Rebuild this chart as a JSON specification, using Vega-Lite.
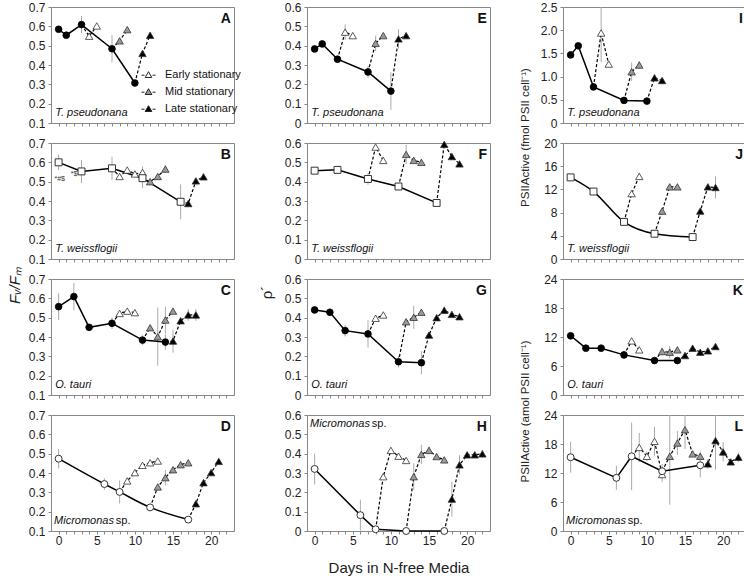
{
"$schema":"https://vega.github.io/schema/vega-lite/v6.json",
"padding":{"left":6,"top":0,"right":0,"bottom":0},
"datasets":{
"refs":[{"p":"A","v":0.585},{"p":"B","v":0.6},{"p":"C","v":0.557},{"p":"D","v":0.474},{"p":"E","v":0.386},{"p":"F","v":0.461},{"p":"G","v":0.443},{"p":"H","v":0.321},{"p":"I","v":1.48},{"p":"J","v":14.07},{"p":"K","v":12.25},{"p":"L","v":15.1}],
"labs":[
{"p":"A","k":"L","d":22.6,"v":0.64,"t":"A"},{"p":"A","k":"S","d":-0.45,"v":0.152,"t":"T. pseudonana"},
{"p":"B","k":"L","d":22.6,"v":0.64,"t":"B"},{"p":"B","k":"S","d":-0.45,"v":0.152,"t":"T. weissflogii"},{"p":"B","k":"N","d":-0.55,"v":0.515,"t":"*#$"},{"p":"B","k":"N","d":1.6,"v":0.54,"t":"*$"},
{"p":"C","k":"L","d":22.6,"v":0.64,"t":"C"},{"p":"C","k":"S","d":-0.45,"v":0.152,"t":"O. tauri"},
{"p":"D","k":"L","d":22.6,"v":0.64,"t":"D"},{"p":"D","k":"S","d":-0.6,"v":0.152,"t":"Micromonas"},{"p":"D","k":"P","d":7.5,"v":0.152,"t":"sp."},
{"p":"E","k":"L","d":22.6,"v":0.54,"t":"E"},{"p":"E","k":"S","d":-0.45,"v":0.052,"t":"T. pseudonana"},
{"p":"F","k":"L","d":22.6,"v":0.54,"t":"F"},{"p":"F","k":"S","d":-0.45,"v":0.052,"t":"T. weissflogii"},
{"p":"G","k":"L","d":22.6,"v":0.54,"t":"G"},{"p":"G","k":"S","d":-0.45,"v":0.052,"t":"O. tauri"},
{"p":"H","k":"L","d":22.6,"v":0.54,"t":"H"},{"p":"H","k":"S","d":-0.6,"v":0.556,"t":"Micromonas"},{"p":"H","k":"P","d":7.5,"v":0.556,"t":"sp."},
{"p":"I","k":"L","d":22.6,"v":2.25,"t":"I"},{"p":"I","k":"S","d":-0.45,"v":0.216,"t":"T. pseudonana"},
{"p":"J","k":"L","d":22.6,"v":18,"t":"J"},{"p":"J","k":"S","d":-0.45,"v":1.72,"t":"T. weissflogii"},
{"p":"K","k":"L","d":22.6,"v":21.6,"t":"K"},{"p":"K","k":"S","d":-0.45,"v":2.07,"t":"O. tauri"},
{"p":"L","k":"L","d":22.6,"v":21.6,"t":"L"},{"p":"L","k":"S","d":-0.6,"v":2.07,"t":"Micromonas"},{"p":"L","k":"P","d":7.5,"v":2.07,"t":"sp."}
],
"pts":[
{"p":"A","s":"base","d":0,"v":0.585},{"p":"A","s":"base","d":1,"v":0.554},{"p":"A","s":"base","d":3,"v":0.609,"e":0.045},{"p":"A","s":"base","d":7,"v":0.484,"e":0.07},{"p":"A","s":"base","d":10,"v":0.307},
{"p":"A","s":"Early stationary","d":3,"v":0.609,"st":1},{"p":"A","s":"Early stationary","d":4,"v":0.549},{"p":"A","s":"Early stationary","d":5,"v":0.602},
{"p":"A","s":"Mid stationary","d":7,"v":0.484,"st":1},{"p":"A","s":"Mid stationary","d":8,"v":0.525},{"p":"A","s":"Mid stationary","d":9,"v":0.583},
{"p":"A","s":"Late stationary","d":10,"v":0.307,"st":1},{"p":"A","s":"Late stationary","d":11,"v":0.46},{"p":"A","s":"Late stationary","d":12,"v":0.554},
{"p":"B","s":"base","d":0,"v":0.6,"e":0.04},{"p":"B","s":"base","d":3,"v":0.553,"e":0.06},{"p":"B","s":"base","d":7,"v":0.569,"e":0.06},{"p":"B","s":"base","d":11,"v":0.518,"e":0.05},{"p":"B","s":"base","d":16,"v":0.396,"e":0.09},
{"p":"B","s":"Early stationary","d":7,"v":0.569,"st":1},{"p":"B","s":"Early stationary","d":8,"v":0.527},{"p":"B","s":"Early stationary","d":9,"v":0.56},{"p":"B","s":"Early stationary","d":10,"v":0.54},{"p":"B","s":"Early stationary","d":11,"v":0.548,"e":0.03},
{"p":"B","s":"Mid stationary","d":11,"v":0.518,"st":1},{"p":"B","s":"Mid stationary","d":12,"v":0.5},{"p":"B","s":"Mid stationary","d":13,"v":0.527},{"p":"B","s":"Mid stationary","d":14,"v":0.565,"e":0.02},
{"p":"B","s":"Late stationary","d":16,"v":0.396,"st":1},{"p":"B","s":"Late stationary","d":17,"v":0.387},{"p":"B","s":"Late stationary","d":18,"v":0.504},{"p":"B","s":"Late stationary","d":19,"v":0.525},
{"p":"C","s":"base","d":0,"v":0.557,"e":0.07},{"p":"C","s":"base","d":2,"v":0.609,"e":0.07},{"p":"C","s":"base","d":4,"v":0.45},{"p":"C","s":"base","d":7,"v":0.471,"e":0.03},{"p":"C","s":"base","d":11,"v":0.384,"e":0.025},{"p":"C","s":"base","d":14,"v":0.374,"e":0.04},
{"p":"C","s":"Early stationary","d":7,"v":0.471,"st":1},{"p":"C","s":"Early stationary","d":8,"v":0.522},{"p":"C","s":"Early stationary","d":9,"v":0.534},{"p":"C","s":"Early stationary","d":10,"v":0.526},
{"p":"C","s":"Mid stationary","d":11,"v":0.384,"st":1},{"p":"C","s":"Mid stationary","d":12,"v":0.448},{"p":"C","s":"Mid stationary","d":13,"v":0.402,"e":0.15},{"p":"C","s":"Mid stationary","d":14,"v":0.488,"e":0.07},{"p":"C","s":"Mid stationary","d":15,"v":0.534},
{"p":"C","s":"Late stationary","d":14,"v":0.374,"st":1},{"p":"C","s":"Late stationary","d":15,"v":0.379,"e":0.06},{"p":"C","s":"Late stationary","d":16,"v":0.484},{"p":"C","s":"Late stationary","d":17,"v":0.514,"e":0.03},{"p":"C","s":"Late stationary","d":18,"v":0.514,"e":0.03},
{"p":"D","s":"base","d":0,"v":0.474,"e":0.05},{"p":"D","s":"base","d":6,"v":0.343,"e":0.03},{"p":"D","s":"base","d":8,"v":0.302,"e":0.06},{"p":"D","s":"base","d":12,"v":0.222},{"p":"D","s":"base","d":17,"v":0.159},
{"p":"D","s":"Early stationary","d":8,"v":0.302,"st":1},{"p":"D","s":"Early stationary","d":9,"v":0.359},{"p":"D","s":"Early stationary","d":10,"v":0.402},{"p":"D","s":"Early stationary","d":11,"v":0.44},{"p":"D","s":"Early stationary","d":12,"v":0.453},{"p":"D","s":"Early stationary","d":13,"v":0.462},
{"p":"D","s":"Mid stationary","d":12,"v":0.222,"st":1},{"p":"D","s":"Mid stationary","d":13,"v":0.328},{"p":"D","s":"Mid stationary","d":14,"v":0.376,"e":0.04},{"p":"D","s":"Mid stationary","d":15,"v":0.417},{"p":"D","s":"Mid stationary","d":16,"v":0.443},{"p":"D","s":"Mid stationary","d":17,"v":0.453},
{"p":"D","s":"Late stationary","d":17,"v":0.159,"st":1},{"p":"D","s":"Late stationary","d":18,"v":0.241},{"p":"D","s":"Late stationary","d":19,"v":0.35},{"p":"D","s":"Late stationary","d":20,"v":0.402},{"p":"D","s":"Late stationary","d":21,"v":0.46},
{"p":"E","s":"base","d":0,"v":0.383},{"p":"E","s":"base","d":1,"v":0.409},{"p":"E","s":"base","d":3,"v":0.33},{"p":"E","s":"base","d":7,"v":0.264,"e":0.03},{"p":"E","s":"base","d":10,"v":0.165,"e":0.097},
{"p":"E","s":"Early stationary","d":3,"v":0.33,"st":1},{"p":"E","s":"Early stationary","d":4,"v":0.47,"e":0.04},{"p":"E","s":"Early stationary","d":5,"v":0.452},
{"p":"E","s":"Mid stationary","d":7,"v":0.264,"st":1},{"p":"E","s":"Mid stationary","d":8,"v":0.412,"e":0.04},{"p":"E","s":"Mid stationary","d":9,"v":0.452},
{"p":"E","s":"Late stationary","d":10,"v":0.165,"st":1},{"p":"E","s":"Late stationary","d":11,"v":0.435,"e":0.05},{"p":"E","s":"Late stationary","d":12,"v":0.452},
{"p":"F","s":"base","d":0,"v":0.457},{"p":"F","s":"base","d":3,"v":0.461},{"p":"F","s":"base","d":7,"v":0.414,"e":0.03},{"p":"F","s":"base","d":11,"v":0.375},{"p":"F","s":"base","d":16,"v":0.29,"e":0.02},
{"p":"F","s":"Early stationary","d":7,"v":0.414,"st":1},{"p":"F","s":"Early stationary","d":8,"v":0.579},{"p":"F","s":"Early stationary","d":9,"v":0.51},
{"p":"F","s":"Mid stationary","d":11,"v":0.375,"st":1},{"p":"F","s":"Mid stationary","d":12,"v":0.541,"e":0.05},{"p":"F","s":"Mid stationary","d":13,"v":0.51},{"p":"F","s":"Mid stationary","d":14,"v":0.5},
{"p":"F","s":"Late stationary","d":16,"v":0.29,"st":1},{"p":"F","s":"Late stationary","d":17,"v":0.593},{"p":"F","s":"Late stationary","d":18,"v":0.53},{"p":"F","s":"Late stationary","d":19,"v":0.492},
{"p":"G","s":"base","d":0,"v":0.44},{"p":"G","s":"base","d":2,"v":0.428,"e":0.02},{"p":"G","s":"base","d":4,"v":0.333,"e":0.03},{"p":"G","s":"base","d":7,"v":0.316,"e":0.07},{"p":"G","s":"base","d":11,"v":0.172,"e":0.03},{"p":"G","s":"base","d":14,"v":0.167,"e":0.06},
{"p":"G","s":"Early stationary","d":7,"v":0.316,"st":1},{"p":"G","s":"Early stationary","d":8,"v":0.397},{"p":"G","s":"Early stationary","d":9,"v":0.414},
{"p":"G","s":"Mid stationary","d":11,"v":0.172,"st":1},{"p":"G","s":"Mid stationary","d":12,"v":0.379},{"p":"G","s":"Mid stationary","d":13,"v":0.402,"e":0.06},{"p":"G","s":"Mid stationary","d":14,"v":0.428},
{"p":"G","s":"Late stationary","d":14,"v":0.167,"st":1},{"p":"G","s":"Late stationary","d":15,"v":0.31},{"p":"G","s":"Late stationary","d":16,"v":0.4},{"p":"G","s":"Late stationary","d":17,"v":0.438,"e":0.02},{"p":"G","s":"Late stationary","d":18,"v":0.417},{"p":"G","s":"Late stationary","d":19,"v":0.405},
{"p":"H","s":"base","d":0,"v":0.321,"e":0.08},{"p":"H","s":"base","d":6,"v":0.082,"e":0.08},{"p":"H","s":"base","d":8,"v":0.009},{"p":"H","s":"base","d":12,"v":0},{"p":"H","s":"base","d":17,"v":0},
{"p":"H","s":"Early stationary","d":8,"v":0.009,"st":1},{"p":"H","s":"Early stationary","d":9,"v":0.281},{"p":"H","s":"Early stationary","d":10,"v":0.417},{"p":"H","s":"Early stationary","d":11,"v":0.387},{"p":"H","s":"Early stationary","d":12,"v":0.365},
{"p":"H","s":"Mid stationary","d":12,"v":0,"st":1},{"p":"H","s":"Mid stationary","d":13,"v":0.281,"e":0.07},{"p":"H","s":"Mid stationary","d":14,"v":0.396,"e":0.05},{"p":"H","s":"Mid stationary","d":15,"v":0.417,"e":0.02},{"p":"H","s":"Mid stationary","d":16,"v":0.385},{"p":"H","s":"Mid stationary","d":17,"v":0.368},
{"p":"H","s":"Late stationary","d":17,"v":0,"st":1},{"p":"H","s":"Late stationary","d":18,"v":0.165,"e":0.09},{"p":"H","s":"Late stationary","d":19,"v":0.342,"e":0.05},{"p":"H","s":"Late stationary","d":20,"v":0.394},{"p":"H","s":"Late stationary","d":21,"v":0.394},{"p":"H","s":"Late stationary","d":22,"v":0.399,"e":0.02},
{"p":"I","s":"base","d":0,"v":1.468},{"p":"I","s":"base","d":1,"v":1.664},{"p":"I","s":"base","d":3,"v":0.778,"e":0.05},{"p":"I","s":"base","d":7,"v":0.487},{"p":"I","s":"base","d":10,"v":0.472},
{"p":"I","s":"Early stationary","d":3,"v":0.778,"st":1},{"p":"I","s":"Early stationary","d":4,"v":1.94,"e":0.63},{"p":"I","s":"Early stationary","d":5,"v":1.27},
{"p":"I","s":"Mid stationary","d":7,"v":0.487,"st":1},{"p":"I","s":"Mid stationary","d":8,"v":1.105,"e":0.2},{"p":"I","s":"Mid stationary","d":9,"v":1.25,"e":0.08},
{"p":"I","s":"Late stationary","d":10,"v":0.472,"st":1},{"p":"I","s":"Late stationary","d":11,"v":0.974,"e":0.07},{"p":"I","s":"Late stationary","d":12,"v":0.916},
{"p":"J","s":"base","d":0,"v":14.07},{"p":"J","s":"base","d":3,"v":11.63},{"p":"J","s":"base","d":7,"v":6.4},{"p":"J","s":"base","d":11,"v":4.36},{"p":"J","s":"base","d":16,"v":3.78},
{"p":"J","s":"Early stationary","d":7,"v":6.4,"st":1},{"p":"J","s":"Early stationary","d":8,"v":11.28},{"p":"J","s":"Early stationary","d":9,"v":14.24,"e":0.6},
{"p":"J","s":"Mid stationary","d":11,"v":4.36,"st":1},{"p":"J","s":"Mid stationary","d":12,"v":8.26},{"p":"J","s":"Mid stationary","d":13,"v":12.44},{"p":"J","s":"Mid stationary","d":14,"v":12.44},
{"p":"J","s":"Late stationary","d":16,"v":3.78,"st":1},{"p":"J","s":"Late stationary","d":17,"v":8.26},{"p":"J","s":"Late stationary","d":18,"v":12.44},{"p":"J","s":"Late stationary","d":19,"v":12.33,"e":1.9},
{"p":"K","s":"base","d":0,"v":12.25,"e":0.8},{"p":"K","s":"base","d":2,"v":9.69},{"p":"K","s":"base","d":4,"v":9.69,"e":0.6},{"p":"K","s":"base","d":7,"v":8.3,"e":0.8},{"p":"K","s":"base","d":11,"v":7.13},{"p":"K","s":"base","d":14,"v":7.13},
{"p":"K","s":"Early stationary","d":7,"v":8.3,"st":1},{"p":"K","s":"Early stationary","d":8,"v":11.2},{"p":"K","s":"Early stationary","d":9,"v":9.34},
{"p":"K","s":"Mid stationary","d":11,"v":7.13,"st":1},{"p":"K","s":"Mid stationary","d":12,"v":9.0,"e":0.8},{"p":"K","s":"Mid stationary","d":13,"v":8.86,"e":1.3},{"p":"K","s":"Mid stationary","d":14,"v":9.34,"e":0.6},
{"p":"K","s":"Late stationary","d":14,"v":7.13,"st":1},{"p":"K","s":"Late stationary","d":15,"v":8.17},{"p":"K","s":"Late stationary","d":16,"v":9.69},{"p":"K","s":"Late stationary","d":17,"v":8.86},{"p":"K","s":"Late stationary","d":18,"v":9.13},{"p":"K","s":"Late stationary","d":19,"v":10.03},
{"p":"L","s":"base","d":0,"v":15.26,"e":3.2},{"p":"L","s":"base","d":6,"v":11.0,"e":2.5},{"p":"L","s":"base","d":8,"v":15.46,"e":7},{"p":"L","s":"base","d":12,"v":12.37,"e":1.5},{"p":"L","s":"base","d":17,"v":13.6,"e":2.5},
{"p":"L","s":"Early stationary","d":8,"v":15.46,"st":1},{"p":"L","s":"Early stationary","d":9,"v":17.3,"e":3},{"p":"L","s":"Early stationary","d":10,"v":15.46,"e":1},{"p":"L","s":"Early stationary","d":11,"v":18.56,"e":3},{"p":"L","s":"Early stationary","d":12,"v":11.68,"e":1.5},
{"p":"L","s":"Mid stationary","d":12,"v":12.37,"st":1},{"p":"L","s":"Mid stationary","d":13,"v":15.46,"e":10},{"p":"L","s":"Mid stationary","d":14,"v":18.2,"e":2.5},{"p":"L","s":"Mid stationary","d":15,"v":20.96,"e":4},{"p":"L","s":"Mid stationary","d":16,"v":15.95},{"p":"L","s":"Mid stationary","d":17,"v":15.46,"e":1},
{"p":"L","s":"Late stationary","d":17,"v":13.6,"st":1},{"p":"L","s":"Late stationary","d":18,"v":13.88,"e":1},{"p":"L","s":"Late stationary","d":19,"v":18.7,"e":6},{"p":"L","s":"Late stationary","d":20,"v":16.36,"e":2},{"p":"L","s":"Late stationary","d":21,"v":14.3},{"p":"L","s":"Late stationary","d":22,"v":15.26,"e":1}
]
},
"columns":3,
"spacing":{"row":20,"column":73},
"bounds":"flush",
"resolve":{"scale":{"fill":"independent"},"legend":{"fill":"independent"}},
"concat":[
{"width":183,"height":116,
"encoding":{"x":{"field":"d","type":"quantitative","scale":{"domain":[-1,23],"nice":false,"zero":false},"axis":{"values":[0,1,2,3,4,5,6,7,8,9,10,11,12,13,14,15,16,17,18,19,20,21,22],"labels":false,"title":null}},"y":{"field":"v","type":"quantitative","scale":{"domain":[0.1,0.7],"nice":false,"zero":false,"clamp":true},"axis":{"values":[0.1,0.2,0.3,0.4,0.5,0.6,0.7],"format":".1f","title":null}}},
"layer":[
{"data":{"name":"refs"},"transform":[{"filter":"datum.p==='A'"}],"mark":{"type":"rule","color":"#999999","strokeDash":[9,5],"strokeWidth":1.5},"encoding":{"x":{"datum":-1},"x2":{"datum":23}}},
{"data":{"name":"pts"},"transform":[{"filter":"datum.p==='A' && isValid(datum.e)"}],"mark":{"type":"errorbar","color":"#aaaaaa","thickness":1},"encoding":{"yError":{"field":"e"}}},
{"data":{"name":"pts"},"transform":[{"filter":"datum.p==='A' && datum.s==='base'"}],"mark":{"type":"line","color":"#000000","strokeWidth":1.5},"encoding":{}},
{"data":{"name":"pts"},"transform":[{"filter":"datum.p==='A' && datum.s!=='base'"}],"mark":{"type":"line","color":"#000000","strokeWidth":1.2,"strokeDash":[3,2]},"encoding":{"detail":{"field":"s"}}},
{"data":{"name":"pts"},"transform":[{"filter":"datum.p==='A' && datum.s!=='base' && !datum.st"}],"mark":{"type":"point","shape":"triangle-up","filled":true,"size":55,"stroke":"#333333","strokeWidth":0.8,"opacity":1},"encoding":{"fill":{"field":"s","type":"nominal","scale":{"domain":["Early stationary","Mid stationary","Late stationary"],"range":["#ffffff","#999999","#000000"]},"legend":{"orient":"none","legendX":92,"legendY":62,"title":null,"symbolType":"M-2,0.2H-1.15M1.15,0.2H2M0,-0.8L0.95,0.85L-0.95,0.85Z","symbolSize":49,"symbolStrokeColor":"#222222","symbolStrokeWidth":1,"labelFontSize":11,"labelOffset":11,"rowPadding":5,"padding":0,"labelColor":"#111111"}}}},
{"data":{"name":"pts"},"transform":[{"filter":"datum.p==='A' && datum.s==='base'"}],"mark":{"type":"point","shape":"circle","filled":true,"size":45,"fill":"#000000","stroke":"#000000","strokeWidth":0.8,"opacity":1},"encoding":{}},
{"data":{"name":"labs"},"transform":[{"filter":"datum.p==='A' && datum.k==='L'"}],"mark":{"type":"text","align":"right","baseline":"middle","fontWeight":"bold","fontSize":14,"color":"#111111"},"encoding":{"text":{"field":"t"}}},
{"data":{"name":"labs"},"transform":[{"filter":"datum.p==='A' && datum.k==='S'"}],"mark":{"type":"text","align":"left","baseline":"middle","fontStyle":"italic","fontSize":11,"color":"#111111"},"encoding":{"text":{"field":"t"}}}
]},
{"width":183,"height":116,
"encoding":{"x":{"field":"d","type":"quantitative","scale":{"domain":[-1,23],"nice":false,"zero":false},"axis":{"values":[0,1,2,3,4,5,6,7,8,9,10,11,12,13,14,15,16,17,18,19,20,21,22],"labels":false,"title":null}},"y":{"field":"v","type":"quantitative","scale":{"domain":[0,0.6],"nice":false,"zero":false,"clamp":true},"axis":{"values":[0,0.1,0.2,0.3,0.4,0.5,0.6],"labelExpr":"datum.value === 0 ? '0' : format(datum.value, '.1f')","title":null}}},
"layer":[
{"data":{"name":"refs"},"transform":[{"filter":"datum.p==='E'"}],"mark":{"type":"rule","color":"#999999","strokeDash":[9,5],"strokeWidth":1.5},"encoding":{"x":{"datum":-1},"x2":{"datum":23}}},
{"data":{"name":"pts"},"transform":[{"filter":"datum.p==='E' && isValid(datum.e)"}],"mark":{"type":"errorbar","color":"#aaaaaa","thickness":1},"encoding":{"yError":{"field":"e"}}},
{"data":{"name":"pts"},"transform":[{"filter":"datum.p==='E' && datum.s==='base'"}],"mark":{"type":"line","color":"#000000","strokeWidth":1.5},"encoding":{}},
{"data":{"name":"pts"},"transform":[{"filter":"datum.p==='E' && datum.s!=='base'"}],"mark":{"type":"line","color":"#000000","strokeWidth":1.2,"strokeDash":[3,2]},"encoding":{"detail":{"field":"s"}}},
{"data":{"name":"pts"},"transform":[{"filter":"datum.p==='E' && datum.s!=='base' && !datum.st"}],"mark":{"type":"point","shape":"triangle-up","filled":true,"size":55,"stroke":"#333333","strokeWidth":0.8,"opacity":1},"encoding":{"fill":{"field":"s","type":"nominal","scale":{"domain":["Early stationary","Mid stationary","Late stationary"],"range":["#ffffff","#999999","#000000"]},"legend":null}}},
{"data":{"name":"pts"},"transform":[{"filter":"datum.p==='E' && datum.s==='base'"}],"mark":{"type":"point","shape":"circle","filled":true,"size":45,"fill":"#000000","stroke":"#000000","strokeWidth":0.8,"opacity":1},"encoding":{}},
{"data":{"name":"labs"},"transform":[{"filter":"datum.p==='E' && datum.k==='L'"}],"mark":{"type":"text","align":"right","baseline":"middle","fontWeight":"bold","fontSize":14,"color":"#111111"},"encoding":{"text":{"field":"t"}}},
{"data":{"name":"labs"},"transform":[{"filter":"datum.p==='E' && datum.k==='S'"}],"mark":{"type":"text","align":"left","baseline":"middle","fontStyle":"italic","fontSize":11,"color":"#111111"},"encoding":{"text":{"field":"t"}}}
]},
{"width":183,"height":116,
"encoding":{"x":{"field":"d","type":"quantitative","scale":{"domain":[-1,23],"nice":false,"zero":false},"axis":{"values":[0,1,2,3,4,5,6,7,8,9,10,11,12,13,14,15,16,17,18,19,20,21,22],"labels":false,"title":null}},"y":{"field":"v","type":"quantitative","scale":{"domain":[0,2.5],"nice":false,"zero":false,"clamp":true},"axis":{"values":[0,0.5,1,1.5,2,2.5],"labelExpr":"datum.value === 0 ? '0' : format(datum.value, '.1f')","title":"PSIIActive (fmol PSII cell⁻¹)","titleFontSize":11.5,"titleX":-38,"titleY":130,"titleBaseline":"middle","titleAlign":"center","titleAngle":270}}},
"layer":[
{"data":{"name":"refs"},"transform":[{"filter":"datum.p==='I'"}],"mark":{"type":"rule","color":"#999999","strokeDash":[9,5],"strokeWidth":1.5},"encoding":{"x":{"datum":-1},"x2":{"datum":23}}},
{"data":{"name":"pts"},"transform":[{"filter":"datum.p==='I' && isValid(datum.e)"}],"mark":{"type":"errorbar","color":"#aaaaaa","thickness":1},"encoding":{"yError":{"field":"e"}}},
{"data":{"name":"pts"},"transform":[{"filter":"datum.p==='I' && datum.s==='base'"}],"mark":{"type":"line","color":"#000000","strokeWidth":1.5},"encoding":{}},
{"data":{"name":"pts"},"transform":[{"filter":"datum.p==='I' && datum.s!=='base'"}],"mark":{"type":"line","color":"#000000","strokeWidth":1.2,"strokeDash":[3,2]},"encoding":{"detail":{"field":"s"}}},
{"data":{"name":"pts"},"transform":[{"filter":"datum.p==='I' && datum.s!=='base' && !datum.st"}],"mark":{"type":"point","shape":"triangle-up","filled":true,"size":55,"stroke":"#333333","strokeWidth":0.8,"opacity":1},"encoding":{"fill":{"field":"s","type":"nominal","scale":{"domain":["Early stationary","Mid stationary","Late stationary"],"range":["#ffffff","#999999","#000000"]},"legend":null}}},
{"data":{"name":"pts"},"transform":[{"filter":"datum.p==='I' && datum.s==='base'"}],"mark":{"type":"point","shape":"circle","filled":true,"size":45,"fill":"#000000","stroke":"#000000","strokeWidth":0.8,"opacity":1},"encoding":{}},
{"data":{"name":"labs"},"transform":[{"filter":"datum.p==='I' && datum.k==='L'"}],"mark":{"type":"text","align":"right","baseline":"middle","fontWeight":"bold","fontSize":14,"color":"#111111"},"encoding":{"text":{"field":"t"}}},
{"data":{"name":"labs"},"transform":[{"filter":"datum.p==='I' && datum.k==='S'"}],"mark":{"type":"text","align":"left","baseline":"middle","fontStyle":"italic","fontSize":11,"color":"#111111"},"encoding":{"text":{"field":"t"}}}
]},
{"width":183,"height":116,
"encoding":{"x":{"field":"d","type":"quantitative","scale":{"domain":[-1,23],"nice":false,"zero":false},"axis":{"values":[0,1,2,3,4,5,6,7,8,9,10,11,12,13,14,15,16,17,18,19,20,21,22],"labels":false,"title":null}},"y":{"field":"v","type":"quantitative","scale":{"domain":[0.1,0.7],"nice":false,"zero":false,"clamp":true},"axis":{"values":[0.1,0.2,0.3,0.4,0.5,0.6,0.7],"format":".1f","title":"Fᵥ/Fₘ","titleFontStyle":"italic","titleFontSize":15,"titleX":-37,"titleY":142,"titleBaseline":"middle","titleAlign":"center","titleAngle":270}}},
"layer":[
{"data":{"name":"refs"},"transform":[{"filter":"datum.p==='B'"}],"mark":{"type":"rule","color":"#999999","strokeDash":[9,5],"strokeWidth":1.5},"encoding":{"x":{"datum":-1},"x2":{"datum":23}}},
{"data":{"name":"pts"},"transform":[{"filter":"datum.p==='B' && isValid(datum.e)"}],"mark":{"type":"errorbar","color":"#aaaaaa","thickness":1},"encoding":{"yError":{"field":"e"}}},
{"data":{"name":"pts"},"transform":[{"filter":"datum.p==='B' && datum.s==='base'"}],"mark":{"type":"line","color":"#000000","strokeWidth":1.5},"encoding":{}},
{"data":{"name":"pts"},"transform":[{"filter":"datum.p==='B' && datum.s!=='base'"}],"mark":{"type":"line","color":"#000000","strokeWidth":1.2,"strokeDash":[3,2]},"encoding":{"detail":{"field":"s"}}},
{"data":{"name":"pts"},"transform":[{"filter":"datum.p==='B' && datum.s!=='base' && !datum.st"}],"mark":{"type":"point","shape":"triangle-up","filled":true,"size":55,"stroke":"#333333","strokeWidth":0.8,"opacity":1},"encoding":{"fill":{"field":"s","type":"nominal","scale":{"domain":["Early stationary","Mid stationary","Late stationary"],"range":["#ffffff","#999999","#000000"]},"legend":null}}},
{"data":{"name":"pts"},"transform":[{"filter":"datum.p==='B' && datum.s==='base'"}],"mark":{"type":"point","shape":"square","filled":true,"size":48,"fill":"#ffffff","stroke":"#333333","strokeWidth":1,"opacity":1},"encoding":{}},
{"data":{"name":"labs"},"transform":[{"filter":"datum.p==='B' && datum.k==='L'"}],"mark":{"type":"text","align":"right","baseline":"middle","fontWeight":"bold","fontSize":14,"color":"#111111"},"encoding":{"text":{"field":"t"}}},
{"data":{"name":"labs"},"transform":[{"filter":"datum.p==='B' && datum.k==='S'"}],"mark":{"type":"text","align":"left","baseline":"middle","fontStyle":"italic","fontSize":11,"color":"#111111"},"encoding":{"text":{"field":"t"}}},
{"data":{"name":"labs"},"transform":[{"filter":"datum.p==='B' && datum.k==='N'"}],"mark":{"type":"text","align":"left","baseline":"middle","fontSize":7,"color":"#333333"},"encoding":{"text":{"field":"t"}}}
]},
{"width":183,"height":116,
"encoding":{"x":{"field":"d","type":"quantitative","scale":{"domain":[-1,23],"nice":false,"zero":false},"axis":{"values":[0,1,2,3,4,5,6,7,8,9,10,11,12,13,14,15,16,17,18,19,20,21,22],"labels":false,"title":null}},"y":{"field":"v","type":"quantitative","scale":{"domain":[0,0.6],"nice":false,"zero":false,"clamp":true},"axis":{"values":[0,0.1,0.2,0.3,0.4,0.5,0.6],"labelExpr":"datum.value === 0 ? '0' : format(datum.value, '.1f')","title":"ρ´","titleFontSize":15,"titleX":-41,"titleY":149,"titleBaseline":"middle","titleAlign":"center","titleAngle":270}}},
"layer":[
{"data":{"name":"refs"},"transform":[{"filter":"datum.p==='F'"}],"mark":{"type":"rule","color":"#999999","strokeDash":[9,5],"strokeWidth":1.5},"encoding":{"x":{"datum":-1},"x2":{"datum":23}}},
{"data":{"name":"pts"},"transform":[{"filter":"datum.p==='F' && isValid(datum.e)"}],"mark":{"type":"errorbar","color":"#aaaaaa","thickness":1},"encoding":{"yError":{"field":"e"}}},
{"data":{"name":"pts"},"transform":[{"filter":"datum.p==='F' && datum.s==='base'"}],"mark":{"type":"line","color":"#000000","strokeWidth":1.5},"encoding":{}},
{"data":{"name":"pts"},"transform":[{"filter":"datum.p==='F' && datum.s!=='base'"}],"mark":{"type":"line","color":"#000000","strokeWidth":1.2,"strokeDash":[3,2]},"encoding":{"detail":{"field":"s"}}},
{"data":{"name":"pts"},"transform":[{"filter":"datum.p==='F' && datum.s!=='base' && !datum.st"}],"mark":{"type":"point","shape":"triangle-up","filled":true,"size":55,"stroke":"#333333","strokeWidth":0.8,"opacity":1},"encoding":{"fill":{"field":"s","type":"nominal","scale":{"domain":["Early stationary","Mid stationary","Late stationary"],"range":["#ffffff","#999999","#000000"]},"legend":null}}},
{"data":{"name":"pts"},"transform":[{"filter":"datum.p==='F' && datum.s==='base'"}],"mark":{"type":"point","shape":"square","filled":true,"size":48,"fill":"#ffffff","stroke":"#333333","strokeWidth":1,"opacity":1},"encoding":{}},
{"data":{"name":"labs"},"transform":[{"filter":"datum.p==='F' && datum.k==='L'"}],"mark":{"type":"text","align":"right","baseline":"middle","fontWeight":"bold","fontSize":14,"color":"#111111"},"encoding":{"text":{"field":"t"}}},
{"data":{"name":"labs"},"transform":[{"filter":"datum.p==='F' && datum.k==='S'"}],"mark":{"type":"text","align":"left","baseline":"middle","fontStyle":"italic","fontSize":11,"color":"#111111"},"encoding":{"text":{"field":"t"}}}
]},
{"width":183,"height":116,
"encoding":{"x":{"field":"d","type":"quantitative","scale":{"domain":[-1,23],"nice":false,"zero":false},"axis":{"values":[0,1,2,3,4,5,6,7,8,9,10,11,12,13,14,15,16,17,18,19,20,21,22],"labels":false,"title":null}},"y":{"field":"v","type":"quantitative","scale":{"domain":[0,20],"nice":false,"zero":false,"clamp":true},"axis":{"values":[0,4,8,12,16,20],"format":"d","title":null}}},
"layer":[
{"data":{"name":"refs"},"transform":[{"filter":"datum.p==='J'"}],"mark":{"type":"rule","color":"#999999","strokeDash":[9,5],"strokeWidth":1.5},"encoding":{"x":{"datum":-1},"x2":{"datum":23}}},
{"data":{"name":"pts"},"transform":[{"filter":"datum.p==='J' && isValid(datum.e)"}],"mark":{"type":"errorbar","color":"#aaaaaa","thickness":1},"encoding":{"yError":{"field":"e"}}},
{"data":{"name":"pts"},"transform":[{"filter":"datum.p==='J' && datum.s==='base'"}],"mark":{"type":"line","color":"#000000","strokeWidth":1.5,"interpolate":"monotone"},"encoding":{}},
{"data":{"name":"pts"},"transform":[{"filter":"datum.p==='J' && datum.s!=='base'"}],"mark":{"type":"line","color":"#000000","strokeWidth":1.2,"strokeDash":[3,2]},"encoding":{"detail":{"field":"s"}}},
{"data":{"name":"pts"},"transform":[{"filter":"datum.p==='J' && datum.s!=='base' && !datum.st"}],"mark":{"type":"point","shape":"triangle-up","filled":true,"size":55,"stroke":"#333333","strokeWidth":0.8,"opacity":1},"encoding":{"fill":{"field":"s","type":"nominal","scale":{"domain":["Early stationary","Mid stationary","Late stationary"],"range":["#ffffff","#999999","#000000"]},"legend":null}}},
{"data":{"name":"pts"},"transform":[{"filter":"datum.p==='J' && datum.s==='base'"}],"mark":{"type":"point","shape":"square","filled":true,"size":48,"fill":"#ffffff","stroke":"#333333","strokeWidth":1,"opacity":1},"encoding":{}},
{"data":{"name":"labs"},"transform":[{"filter":"datum.p==='J' && datum.k==='L'"}],"mark":{"type":"text","align":"right","baseline":"middle","fontWeight":"bold","fontSize":14,"color":"#111111"},"encoding":{"text":{"field":"t"}}},
{"data":{"name":"labs"},"transform":[{"filter":"datum.p==='J' && datum.k==='S'"}],"mark":{"type":"text","align":"left","baseline":"middle","fontStyle":"italic","fontSize":11,"color":"#111111"},"encoding":{"text":{"field":"t"}}}
]},
{"width":183,"height":116,
"encoding":{"x":{"field":"d","type":"quantitative","scale":{"domain":[-1,23],"nice":false,"zero":false},"axis":{"values":[0,1,2,3,4,5,6,7,8,9,10,11,12,13,14,15,16,17,18,19,20,21,22],"labels":false,"title":null}},"y":{"field":"v","type":"quantitative","scale":{"domain":[0.1,0.7],"nice":false,"zero":false,"clamp":true},"axis":{"values":[0.1,0.2,0.3,0.4,0.5,0.6,0.7],"format":".1f","title":null}}},
"layer":[
{"data":{"name":"refs"},"transform":[{"filter":"datum.p==='C'"}],"mark":{"type":"rule","color":"#999999","strokeDash":[9,5],"strokeWidth":1.5},"encoding":{"x":{"datum":-1},"x2":{"datum":23}}},
{"data":{"name":"pts"},"transform":[{"filter":"datum.p==='C' && isValid(datum.e)"}],"mark":{"type":"errorbar","color":"#aaaaaa","thickness":1},"encoding":{"yError":{"field":"e"}}},
{"data":{"name":"pts"},"transform":[{"filter":"datum.p==='C' && datum.s==='base'"}],"mark":{"type":"line","color":"#000000","strokeWidth":1.5},"encoding":{}},
{"data":{"name":"pts"},"transform":[{"filter":"datum.p==='C' && datum.s!=='base'"}],"mark":{"type":"line","color":"#000000","strokeWidth":1.2,"strokeDash":[3,2]},"encoding":{"detail":{"field":"s"}}},
{"data":{"name":"pts"},"transform":[{"filter":"datum.p==='C' && datum.s!=='base' && !datum.st"}],"mark":{"type":"point","shape":"triangle-up","filled":true,"size":55,"stroke":"#333333","strokeWidth":0.8,"opacity":1},"encoding":{"fill":{"field":"s","type":"nominal","scale":{"domain":["Early stationary","Mid stationary","Late stationary"],"range":["#ffffff","#999999","#000000"]},"legend":null}}},
{"data":{"name":"pts"},"transform":[{"filter":"datum.p==='C' && datum.s==='base'"}],"mark":{"type":"point","shape":"circle","filled":true,"size":45,"fill":"#000000","stroke":"#000000","strokeWidth":0.8,"opacity":1},"encoding":{}},
{"data":{"name":"labs"},"transform":[{"filter":"datum.p==='C' && datum.k==='L'"}],"mark":{"type":"text","align":"right","baseline":"middle","fontWeight":"bold","fontSize":14,"color":"#111111"},"encoding":{"text":{"field":"t"}}},
{"data":{"name":"labs"},"transform":[{"filter":"datum.p==='C' && datum.k==='S'"}],"mark":{"type":"text","align":"left","baseline":"middle","fontStyle":"italic","fontSize":11,"color":"#111111"},"encoding":{"text":{"field":"t"}}}
]},
{"width":183,"height":116,
"encoding":{"x":{"field":"d","type":"quantitative","scale":{"domain":[-1,23],"nice":false,"zero":false},"axis":{"values":[0,1,2,3,4,5,6,7,8,9,10,11,12,13,14,15,16,17,18,19,20,21,22],"labels":false,"title":null}},"y":{"field":"v","type":"quantitative","scale":{"domain":[0,0.6],"nice":false,"zero":false,"clamp":true},"axis":{"values":[0,0.1,0.2,0.3,0.4,0.5,0.6],"labelExpr":"datum.value === 0 ? '0' : format(datum.value, '.1f')","title":null}}},
"layer":[
{"data":{"name":"refs"},"transform":[{"filter":"datum.p==='G'"}],"mark":{"type":"rule","color":"#999999","strokeDash":[9,5],"strokeWidth":1.5},"encoding":{"x":{"datum":-1},"x2":{"datum":23}}},
{"data":{"name":"pts"},"transform":[{"filter":"datum.p==='G' && isValid(datum.e)"}],"mark":{"type":"errorbar","color":"#aaaaaa","thickness":1},"encoding":{"yError":{"field":"e"}}},
{"data":{"name":"pts"},"transform":[{"filter":"datum.p==='G' && datum.s==='base'"}],"mark":{"type":"line","color":"#000000","strokeWidth":1.5},"encoding":{}},
{"data":{"name":"pts"},"transform":[{"filter":"datum.p==='G' && datum.s!=='base'"}],"mark":{"type":"line","color":"#000000","strokeWidth":1.2,"strokeDash":[3,2]},"encoding":{"detail":{"field":"s"}}},
{"data":{"name":"pts"},"transform":[{"filter":"datum.p==='G' && datum.s!=='base' && !datum.st"}],"mark":{"type":"point","shape":"triangle-up","filled":true,"size":55,"stroke":"#333333","strokeWidth":0.8,"opacity":1},"encoding":{"fill":{"field":"s","type":"nominal","scale":{"domain":["Early stationary","Mid stationary","Late stationary"],"range":["#ffffff","#999999","#000000"]},"legend":null}}},
{"data":{"name":"pts"},"transform":[{"filter":"datum.p==='G' && datum.s==='base'"}],"mark":{"type":"point","shape":"circle","filled":true,"size":45,"fill":"#000000","stroke":"#000000","strokeWidth":0.8,"opacity":1},"encoding":{}},
{"data":{"name":"labs"},"transform":[{"filter":"datum.p==='G' && datum.k==='L'"}],"mark":{"type":"text","align":"right","baseline":"middle","fontWeight":"bold","fontSize":14,"color":"#111111"},"encoding":{"text":{"field":"t"}}},
{"data":{"name":"labs"},"transform":[{"filter":"datum.p==='G' && datum.k==='S'"}],"mark":{"type":"text","align":"left","baseline":"middle","fontStyle":"italic","fontSize":11,"color":"#111111"},"encoding":{"text":{"field":"t"}}}
]},
{"width":183,"height":116,
"encoding":{"x":{"field":"d","type":"quantitative","scale":{"domain":[-1,23],"nice":false,"zero":false},"axis":{"values":[0,1,2,3,4,5,6,7,8,9,10,11,12,13,14,15,16,17,18,19,20,21,22],"labels":false,"title":null}},"y":{"field":"v","type":"quantitative","scale":{"domain":[0,24],"nice":false,"zero":false,"clamp":true},"axis":{"values":[0,6,12,18,24],"format":"d","title":"PSIIActive (amol PSII cell⁻¹)","titleFontSize":11.5,"titleX":-38,"titleY":132,"titleBaseline":"middle","titleAlign":"center","titleAngle":270}}},
"layer":[
{"data":{"name":"refs"},"transform":[{"filter":"datum.p==='K'"}],"mark":{"type":"rule","color":"#999999","strokeDash":[9,5],"strokeWidth":1.5},"encoding":{"x":{"datum":-1},"x2":{"datum":23}}},
{"data":{"name":"pts"},"transform":[{"filter":"datum.p==='K' && isValid(datum.e)"}],"mark":{"type":"errorbar","color":"#aaaaaa","thickness":1},"encoding":{"yError":{"field":"e"}}},
{"data":{"name":"pts"},"transform":[{"filter":"datum.p==='K' && datum.s==='base'"}],"mark":{"type":"line","color":"#000000","strokeWidth":1.5},"encoding":{}},
{"data":{"name":"pts"},"transform":[{"filter":"datum.p==='K' && datum.s!=='base'"}],"mark":{"type":"line","color":"#000000","strokeWidth":1.2,"strokeDash":[3,2]},"encoding":{"detail":{"field":"s"}}},
{"data":{"name":"pts"},"transform":[{"filter":"datum.p==='K' && datum.s!=='base' && !datum.st"}],"mark":{"type":"point","shape":"triangle-up","filled":true,"size":55,"stroke":"#333333","strokeWidth":0.8,"opacity":1},"encoding":{"fill":{"field":"s","type":"nominal","scale":{"domain":["Early stationary","Mid stationary","Late stationary"],"range":["#ffffff","#999999","#000000"]},"legend":null}}},
{"data":{"name":"pts"},"transform":[{"filter":"datum.p==='K' && datum.s==='base'"}],"mark":{"type":"point","shape":"circle","filled":true,"size":45,"fill":"#000000","stroke":"#000000","strokeWidth":0.8,"opacity":1},"encoding":{}},
{"data":{"name":"labs"},"transform":[{"filter":"datum.p==='K' && datum.k==='L'"}],"mark":{"type":"text","align":"right","baseline":"middle","fontWeight":"bold","fontSize":14,"color":"#111111"},"encoding":{"text":{"field":"t"}}},
{"data":{"name":"labs"},"transform":[{"filter":"datum.p==='K' && datum.k==='S'"}],"mark":{"type":"text","align":"left","baseline":"middle","fontStyle":"italic","fontSize":11,"color":"#111111"},"encoding":{"text":{"field":"t"}}}
]},
{"width":183,"height":116,
"encoding":{"x":{"field":"d","type":"quantitative","scale":{"domain":[-1,23],"nice":false,"zero":false},"axis":{"values":[0,1,2,3,4,5,6,7,8,9,10,11,12,13,14,15,16,17,18,19,20,21,22],"labelExpr":"datum.value % 5 === 0 ? datum.label : ''","labelOverlap":false,"labelFlush":false,"labelPadding":1,"title":null}},"y":{"field":"v","type":"quantitative","scale":{"domain":[0.1,0.7],"nice":false,"zero":false,"clamp":true},"axis":{"values":[0.1,0.2,0.3,0.4,0.5,0.6,0.7],"format":".1f","title":null}}},
"layer":[
{"data":{"name":"refs"},"transform":[{"filter":"datum.p==='D'"}],"mark":{"type":"rule","color":"#999999","strokeDash":[9,5],"strokeWidth":1.5},"encoding":{"x":{"datum":-1},"x2":{"datum":23}}},
{"data":{"name":"pts"},"transform":[{"filter":"datum.p==='D' && isValid(datum.e)"}],"mark":{"type":"errorbar","color":"#aaaaaa","thickness":1},"encoding":{"yError":{"field":"e"}}},
{"data":{"name":"pts"},"transform":[{"filter":"datum.p==='D' && datum.s==='base'"}],"mark":{"type":"line","color":"#000000","strokeWidth":1.5,"interpolate":"monotone"},"encoding":{}},
{"data":{"name":"pts"},"transform":[{"filter":"datum.p==='D' && datum.s!=='base'"}],"mark":{"type":"line","color":"#000000","strokeWidth":1.2,"strokeDash":[3,2]},"encoding":{"detail":{"field":"s"}}},
{"data":{"name":"pts"},"transform":[{"filter":"datum.p==='D' && datum.s!=='base' && !datum.st"}],"mark":{"type":"point","shape":"triangle-up","filled":true,"size":55,"stroke":"#333333","strokeWidth":0.8,"opacity":1},"encoding":{"fill":{"field":"s","type":"nominal","scale":{"domain":["Early stationary","Mid stationary","Late stationary"],"range":["#ffffff","#999999","#000000"]},"legend":null}}},
{"data":{"name":"pts"},"transform":[{"filter":"datum.p==='D' && datum.s==='base'"}],"mark":{"type":"point","shape":"circle","filled":true,"size":48,"fill":"#ffffff","stroke":"#333333","strokeWidth":1,"opacity":1},"encoding":{}},
{"data":{"name":"labs"},"transform":[{"filter":"datum.p==='D' && datum.k==='L'"}],"mark":{"type":"text","align":"right","baseline":"middle","fontWeight":"bold","fontSize":14,"color":"#111111"},"encoding":{"text":{"field":"t"}}},
{"data":{"name":"labs"},"transform":[{"filter":"datum.p==='D' && datum.k==='S'"}],"mark":{"type":"text","align":"left","baseline":"middle","fontStyle":"italic","fontSize":11,"color":"#111111"},"encoding":{"text":{"field":"t"}}},
{"data":{"name":"labs"},"transform":[{"filter":"datum.p==='D' && datum.k==='P'"}],"mark":{"type":"text","align":"left","baseline":"middle","fontSize":11,"color":"#111111"},"encoding":{"text":{"field":"t"}}}
]},
{"width":183,"height":116,
"encoding":{"x":{"field":"d","type":"quantitative","scale":{"domain":[-1,23],"nice":false,"zero":false},"axis":{"values":[0,1,2,3,4,5,6,7,8,9,10,11,12,13,14,15,16,17,18,19,20,21,22],"labelExpr":"datum.value % 5 === 0 ? datum.label : ''","labelOverlap":false,"labelFlush":false,"labelPadding":1,"title":"Days in N-free Media","titleFontSize":15,"titlePadding":14}},"y":{"field":"v","type":"quantitative","scale":{"domain":[0,0.6],"nice":false,"zero":false,"clamp":true},"axis":{"values":[0,0.1,0.2,0.3,0.4,0.5,0.6],"labelExpr":"datum.value === 0 ? '0' : format(datum.value, '.1f')","title":null}}},
"layer":[
{"data":{"name":"refs"},"transform":[{"filter":"datum.p==='H'"}],"mark":{"type":"rule","color":"#999999","strokeDash":[9,5],"strokeWidth":1.5},"encoding":{"x":{"datum":-1},"x2":{"datum":23}}},
{"data":{"name":"pts"},"transform":[{"filter":"datum.p==='H' && isValid(datum.e)"}],"mark":{"type":"errorbar","color":"#aaaaaa","thickness":1},"encoding":{"yError":{"field":"e"}}},
{"data":{"name":"pts"},"transform":[{"filter":"datum.p==='H' && datum.s==='base'"}],"mark":{"type":"line","color":"#000000","strokeWidth":1.5},"encoding":{}},
{"data":{"name":"pts"},"transform":[{"filter":"datum.p==='H' && datum.s!=='base'"}],"mark":{"type":"line","color":"#000000","strokeWidth":1.2,"strokeDash":[3,2]},"encoding":{"detail":{"field":"s"}}},
{"data":{"name":"pts"},"transform":[{"filter":"datum.p==='H' && datum.s!=='base' && !datum.st"}],"mark":{"type":"point","shape":"triangle-up","filled":true,"size":55,"stroke":"#333333","strokeWidth":0.8,"opacity":1},"encoding":{"fill":{"field":"s","type":"nominal","scale":{"domain":["Early stationary","Mid stationary","Late stationary"],"range":["#ffffff","#999999","#000000"]},"legend":null}}},
{"data":{"name":"pts"},"transform":[{"filter":"datum.p==='H' && datum.s==='base'"}],"mark":{"type":"point","shape":"circle","filled":true,"size":48,"fill":"#ffffff","stroke":"#333333","strokeWidth":1,"opacity":1},"encoding":{}},
{"data":{"name":"labs"},"transform":[{"filter":"datum.p==='H' && datum.k==='L'"}],"mark":{"type":"text","align":"right","baseline":"middle","fontWeight":"bold","fontSize":14,"color":"#111111"},"encoding":{"text":{"field":"t"}}},
{"data":{"name":"labs"},"transform":[{"filter":"datum.p==='H' && datum.k==='S'"}],"mark":{"type":"text","align":"left","baseline":"middle","fontStyle":"italic","fontSize":11,"color":"#111111"},"encoding":{"text":{"field":"t"}}},
{"data":{"name":"labs"},"transform":[{"filter":"datum.p==='H' && datum.k==='P'"}],"mark":{"type":"text","align":"left","baseline":"middle","fontSize":11,"color":"#111111"},"encoding":{"text":{"field":"t"}}}
]},
{"width":183,"height":116,
"encoding":{"x":{"field":"d","type":"quantitative","scale":{"domain":[-1,23],"nice":false,"zero":false},"axis":{"values":[0,1,2,3,4,5,6,7,8,9,10,11,12,13,14,15,16,17,18,19,20,21,22],"labelExpr":"datum.value % 5 === 0 ? datum.label : ''","labelOverlap":false,"labelFlush":false,"labelPadding":1,"title":null}},"y":{"field":"v","type":"quantitative","scale":{"domain":[0,24],"nice":false,"zero":false,"clamp":true},"axis":{"values":[0,6,12,18,24],"format":"d","title":null}}},
"layer":[
{"data":{"name":"refs"},"transform":[{"filter":"datum.p==='L'"}],"mark":{"type":"rule","color":"#999999","strokeDash":[9,5],"strokeWidth":1.5},"encoding":{"x":{"datum":-1},"x2":{"datum":23}}},
{"data":{"name":"pts"},"transform":[{"filter":"datum.p==='L' && isValid(datum.e)"}],"mark":{"type":"errorbar","color":"#aaaaaa","thickness":1},"encoding":{"yError":{"field":"e"}}},
{"data":{"name":"pts"},"transform":[{"filter":"datum.p==='L' && datum.s==='base'"}],"mark":{"type":"line","color":"#000000","strokeWidth":1.5},"encoding":{}},
{"data":{"name":"pts"},"transform":[{"filter":"datum.p==='L' && datum.s!=='base'"}],"mark":{"type":"line","color":"#000000","strokeWidth":1.2,"strokeDash":[3,2]},"encoding":{"detail":{"field":"s"}}},
{"data":{"name":"pts"},"transform":[{"filter":"datum.p==='L' && datum.s!=='base' && !datum.st"}],"mark":{"type":"point","shape":"triangle-up","filled":true,"size":55,"stroke":"#333333","strokeWidth":0.8,"opacity":1},"encoding":{"fill":{"field":"s","type":"nominal","scale":{"domain":["Early stationary","Mid stationary","Late stationary"],"range":["#ffffff","#999999","#000000"]},"legend":null}}},
{"data":{"name":"pts"},"transform":[{"filter":"datum.p==='L' && datum.s==='base'"}],"mark":{"type":"point","shape":"circle","filled":true,"size":48,"fill":"#ffffff","stroke":"#333333","strokeWidth":1,"opacity":1},"encoding":{}},
{"data":{"name":"labs"},"transform":[{"filter":"datum.p==='L' && datum.k==='L'"}],"mark":{"type":"text","align":"right","baseline":"middle","fontWeight":"bold","fontSize":14,"color":"#111111"},"encoding":{"text":{"field":"t"}}},
{"data":{"name":"labs"},"transform":[{"filter":"datum.p==='L' && datum.k==='S'"}],"mark":{"type":"text","align":"left","baseline":"middle","fontStyle":"italic","fontSize":11,"color":"#111111"},"encoding":{"text":{"field":"t"}}},
{"data":{"name":"labs"},"transform":[{"filter":"datum.p==='L' && datum.k==='P'"}],"mark":{"type":"text","align":"left","baseline":"middle","fontSize":11,"color":"#111111"},"encoding":{"text":{"field":"t"}}}
]}
],
"config":{
"font":"Liberation Sans",
"view":{"stroke":"#888888","strokeWidth":1},
"axis":{"grid":false,"domainColor":"#888888","tickColor":"#888888","tickSize":3,"labelColor":"#222222","labelFontSize":12,"labelFont":"Liberation Sans","titleFont":"Liberation Sans","titleColor":"#222222","titleFontWeight":"normal","labelPadding":3},
"legend":{"labelFont":"Liberation Sans"}
}
}
